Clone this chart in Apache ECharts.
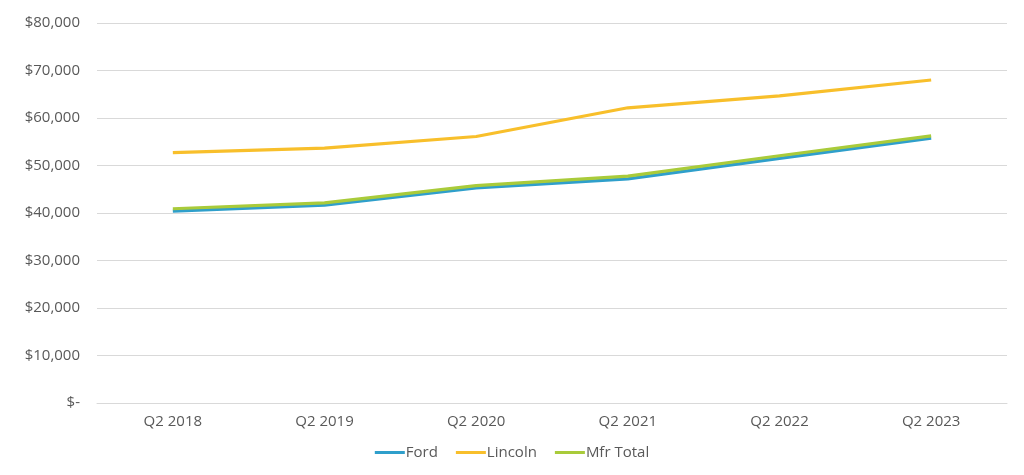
<!DOCTYPE html>
<html>
<head>
<meta charset="utf-8">
<script src="https://cdn.jsdelivr.net/npm/echarts@6/dist/echarts.min.js"></script>
<style>
html,body{margin:0;padding:0;background:#fff;}
#c{width:1024px;height:475px;}
</style>
</head>
<body>
<div id="c"></div>
<script>
var categories = ['Q2 2018','Q2 2019','Q2 2020','Q2 2021','Q2 2022','Q2 2023'];
var ford = [40400, 41650, 45300, 47200, 51500, 55750];
var lincoln = [52700, 53650, 56100, 62150, 64650, 68000];
var mfrTotal = [40900, 42150, 45750, 47750, 52050, 56250];

var chart = echarts.init(document.getElementById('c'));
var font = '"Open Sans", Lato, sans-serif';
chart.setOption({
  animation: false,
  grid: {left: 97, right: 17, top: 23, bottom: 72, containLabel: false},
  legend: {
    bottom: 10, left: 'center',
    icon: 'rect', itemWidth: 30, itemHeight: 3, itemGap: 18,
    textStyle: {color: '#595959', fontSize: 15, fontFamily: font, padding: [0,0,0,-4]},
    data: ['Ford','Lincoln','Mfr Total']
  },
  xAxis: {
    type: 'category', data: categories, boundaryGap: true,
    axisLine: {show: true, lineStyle: {color: '#d9d9d9', width: 1}},
    axisTick: {show: false},
    axisLabel: {color: '#595959', fontSize: 15, fontFamily: font, margin: 11}
  },
  yAxis: {
    type: 'value', min: 0, max: 80000, interval: 10000,
    axisLine: {show: false}, axisTick: {show: false},
    splitLine: {lineStyle: {color: '#d9d9d9', width: 1}},
    axisLabel: {
      color: '#595959', fontSize: 15, fontFamily: font, margin: 17,
      formatter: function(v){ return v === 0 ? '$-' : '$' + v.toLocaleString('en-US'); }
    }
  },
  series: [
    {name: 'Ford', type: 'line', data: ford, symbol: 'none', lineStyle: {width: 3.2, color: '#2f9fcb'}, itemStyle: {color: '#2f9fcb'}, z: 2},
    {name: 'Lincoln', type: 'line', data: lincoln, symbol: 'none', lineStyle: {width: 3.2, color: '#f8bf2b'}, itemStyle: {color: '#f8bf2b'}, z: 3},
    {name: 'Mfr Total', type: 'line', data: mfrTotal, symbol: 'none', lineStyle: {width: 3.2, color: '#a9cb3a'}, itemStyle: {color: '#a9cb3a'}, z: 3}
  ]
});
</script>
</body>
</html>
